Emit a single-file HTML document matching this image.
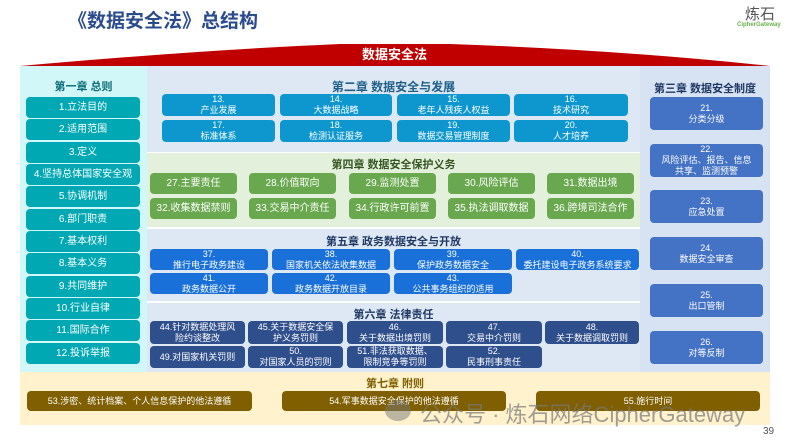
<!DOCTYPE html>
<html><head><meta charset="utf-8"><style>
*{margin:0;padding:0;box-sizing:border-box}
body{width:790px;height:444px;background:#fff;position:relative;overflow:hidden;font-family:"Liberation Sans","Noto Sans CJK SC",sans-serif}
.a{position:absolute}
.b{position:absolute;color:#fff;border-radius:4px;display:flex;align-items:center;justify-content:center;text-align:center;font-size:9px;line-height:11px}
.h{position:absolute;font-weight:bold;text-align:center;font-size:11px}
</style></head><body>
<div class="a" style="left:68px;top:6px;font-size:19px;font-weight:bold;color:#2b4c8c">《数据安全法》总结构</div>
<div class="a" style="left:745px;top:3px;font-size:15px;color:#555">炼石</div>
<div class="a" style="left:737px;top:22px;font-size:6px;color:#6ab04c;font-weight:bold;white-space:nowrap">CipherGateway</div>
<svg class="a" style="left:0;top:0" width="790" height="70"><path d="M20,66 Q200,50 340,44 L450,44 Q620,50 770,66 Z" fill="#c00000"/></svg>
<div class="a" style="left:20px;top:66px;width:127px;height:306px;background:#d2f7f9"></div>
<div class="a" style="left:147px;top:66px;width:493px;height:86px;background:#dee8f4"></div>
<div class="a" style="left:147px;top:153px;width:493px;height:74px;background:#e3f0db"></div>
<div class="a" style="left:147px;top:229px;width:493px;height:72px;background:#dee8f4"></div>
<div class="a" style="left:147px;top:303px;width:493px;height:69px;background:#dee8f4"></div>
<div class="a" style="left:640px;top:66px;width:130px;height:306px;background:#d7e2f3"></div>
<div class="a" style="left:20px;top:372px;width:750px;height:53px;background:#fff2cc"></div>
<div class="a" style="left:362px;top:47px;color:#fff;font-weight:bold;font-size:13px;line-height:16px;z-index:5">数据安全法</div>
<div class="h" style="left:20px;top:78px;width:127px;color:#0b6f78">第一章 总则</div>
<div class="h" style="left:147px;top:78px;width:493px;color:#1f5f8a;font-size:12px">第二章 数据安全与发展</div>
<div class="h" style="left:147px;top:156px;width:493px;color:#375623">第四章 数据安全保护义务</div>
<div class="h" style="left:147px;top:233px;width:493px;color:#1f3864">第五章 政务数据安全与开放</div>
<div class="h" style="left:147px;top:306px;width:493px;color:#1f3864">第六章 法律责任</div>
<div class="h" style="left:640px;top:80px;width:130px;color:#1f3864">第三章 数据安全制度</div>
<div class="h" style="left:20px;top:375px;width:750px;color:#7f5f00">第七章 附则</div>
<!-- ch1 -->
<div class="b" style="left:26px;top:97px;width:114px;height:21px;background:#00a8b3;font-size:10px">1.立法目的</div>
<div class="b" style="left:26px;top:119px;width:114px;height:21px;background:#00a8b3;font-size:10px">2.适用范围</div>
<div class="b" style="left:26px;top:142px;width:114px;height:21px;background:#00a8b3;font-size:10px">3.定义</div>
<div class="b" style="left:26px;top:164px;width:114px;height:21px;background:#00a8b3;font-size:10px">4.坚持总体国家安全观</div>
<div class="b" style="left:26px;top:186px;width:114px;height:21px;background:#00a8b3;font-size:10px">5.协调机制</div>
<div class="b" style="left:26px;top:209px;width:114px;height:21px;background:#00a8b3;font-size:10px">6.部门职责</div>
<div class="b" style="left:26px;top:231px;width:114px;height:21px;background:#00a8b3;font-size:10px">7.基本权利</div>
<div class="b" style="left:26px;top:253px;width:114px;height:21px;background:#00a8b3;font-size:10px">8.基本义务</div>
<div class="b" style="left:26px;top:276px;width:114px;height:21px;background:#00a8b3;font-size:10px">9.共同维护</div>
<div class="b" style="left:26px;top:298px;width:114px;height:21px;background:#00a8b3;font-size:10px">10.行业自律</div>
<div class="b" style="left:26px;top:320px;width:114px;height:21px;background:#00a8b3;font-size:10px">11.国际合作</div>
<div class="b" style="left:26px;top:343px;width:114px;height:21px;background:#00a8b3;font-size:10px">12.投诉举报</div>
<!-- ch2 -->
<div class="b" style="left:162px;top:94px;width:113px;height:22px;background:#0e97cf">13.<br>产业发展</div>
<div class="b" style="left:280px;top:94px;width:112px;height:22px;background:#0e97cf">14.<br>大数据战略</div>
<div class="b" style="left:397px;top:94px;width:113px;height:22px;background:#0e97cf">15.<br>老年人残疾人权益</div>
<div class="b" style="left:514px;top:94px;width:114px;height:22px;background:#0e97cf">16.<br>技术研究</div>
<div class="b" style="left:162px;top:120px;width:113px;height:22px;background:#0e97cf">17.<br>标准体系</div>
<div class="b" style="left:280px;top:120px;width:112px;height:22px;background:#0e97cf">18.<br>检测认证服务</div>
<div class="b" style="left:397px;top:120px;width:113px;height:22px;background:#0e97cf">19.<br>数据交易管理制度</div>
<div class="b" style="left:514px;top:120px;width:114px;height:22px;background:#0e97cf">20.<br>人才培养</div>
<!-- ch4 -->
<div class="b" style="left:150px;top:173px;width:87px;height:21px;background:#6aa84f;font-size:10px">27.主要责任</div>
<div class="b" style="left:249px;top:173px;width:87px;height:21px;background:#6aa84f;font-size:10px">28.价值取向</div>
<div class="b" style="left:349px;top:173px;width:87px;height:21px;background:#6aa84f;font-size:10px">29.监测处置</div>
<div class="b" style="left:448px;top:173px;width:87px;height:21px;background:#6aa84f;font-size:10px">30.风险评估</div>
<div class="b" style="left:547px;top:173px;width:87px;height:21px;background:#6aa84f;font-size:10px">31.数据出境</div>
<div class="b" style="left:150px;top:198px;width:87px;height:21px;background:#6aa84f;font-size:10px">32.收集数据禁则</div>
<div class="b" style="left:249px;top:198px;width:87px;height:21px;background:#6aa84f;font-size:10px">33.交易中介责任</div>
<div class="b" style="left:349px;top:198px;width:87px;height:21px;background:#6aa84f;font-size:10px">34.行政许可前置</div>
<div class="b" style="left:448px;top:198px;width:87px;height:21px;background:#6aa84f;font-size:10px">35.执法调取数据</div>
<div class="b" style="left:547px;top:198px;width:87px;height:21px;background:#6aa84f;font-size:10px">36.跨境司法合作</div>
<!-- ch5 -->
<div class="b" style="left:150px;top:249px;width:118px;height:21px;background:#1a70d9">37.<br>推行电子政务建设</div>
<div class="b" style="left:272px;top:249px;width:118px;height:21px;background:#1a70d9">38.<br>国家机关依法收集数据</div>
<div class="b" style="left:394px;top:249px;width:118px;height:21px;background:#1a70d9">39.<br>保护政务数据安全</div>
<div class="b" style="left:516px;top:249px;width:123px;height:21px;background:#1a70d9">40.<br>委托建设电子政务系统要求</div>
<div class="b" style="left:150px;top:273px;width:118px;height:21px;background:#1a70d9">41.<br>政务数据公开</div>
<div class="b" style="left:272px;top:273px;width:118px;height:21px;background:#1a70d9">42.<br>政务数据开放目录</div>
<div class="b" style="left:394px;top:273px;width:118px;height:21px;background:#1a70d9">43.<br>公共事务组织的适用</div>
<!-- ch6 -->
<div class="b" style="left:150px;top:321px;width:95px;height:23px;background:#2f4e8c">44.针对数据处理风<br>险约谈整改</div>
<div class="b" style="left:248px;top:321px;width:95px;height:23px;background:#2f4e8c">45.关于数据安全保<br>护义务罚则</div>
<div class="b" style="left:347px;top:321px;width:96px;height:23px;background:#2f4e8c">46.<br>关于数据出境罚则</div>
<div class="b" style="left:446px;top:321px;width:96px;height:23px;background:#2f4e8c">47.<br>交易中介罚则</div>
<div class="b" style="left:545px;top:321px;width:94px;height:23px;background:#2f4e8c">48.<br>关于数据调取罚则</div>
<div class="b" style="left:150px;top:346px;width:95px;height:22px;background:#2f4e8c">49.对国家机关罚则</div>
<div class="b" style="left:248px;top:346px;width:95px;height:22px;background:#2f4e8c">50.<br>对国家人员的罚则</div>
<div class="b" style="left:347px;top:346px;width:96px;height:22px;background:#2f4e8c">51.非法获取数据、<br>限制竞争等罚则</div>
<div class="b" style="left:446px;top:346px;width:96px;height:22px;background:#2f4e8c">52.<br>民事刑事责任</div>
<!-- ch3 -->
<div class="b" style="left:650px;top:97px;width:113px;height:33px;background:#4472c4">21.<br>分类分级</div>
<div class="b" style="left:650px;top:144px;width:113px;height:33px;background:#4472c4">22.<br>风险评估、报告、信息<br>共享、监测预警</div>
<div class="b" style="left:650px;top:190px;width:113px;height:33px;background:#4472c4">23.<br>应急处置</div>
<div class="b" style="left:650px;top:237px;width:113px;height:33px;background:#4472c4">24.<br>数据安全审查</div>
<div class="b" style="left:650px;top:284px;width:113px;height:33px;background:#4472c4">25.<br>出口管制</div>
<div class="b" style="left:650px;top:331px;width:113px;height:33px;background:#4472c4">26.<br>对等反制</div>
<!-- ch7 -->
<div class="b" style="left:27px;top:391px;width:225px;height:20px;background:#7f5f00">53.涉密、统计档案、个人信息保护的他法遵循</div>
<div class="b" style="left:282px;top:391px;width:224px;height:20px;background:#7f5f00">54.军事数据安全保护的他法遵循</div>
<div class="b" style="left:536px;top:391px;width:224px;height:20px;background:#7f5f00">55.施行时间</div>
<div class="a" style="left:385px;top:400px;width:26px;height:21px;border-radius:50%;background:rgba(120,120,120,0.5)"></div>
<div class="a" style="left:420px;top:397px;font-size:22px;color:rgba(120,120,120,0.7);white-space:nowrap">公众号 · 炼石网络CipherGateway</div>
<div class="a" style="left:763px;top:426px;font-size:10px;color:#555">39</div>
</body></html>
